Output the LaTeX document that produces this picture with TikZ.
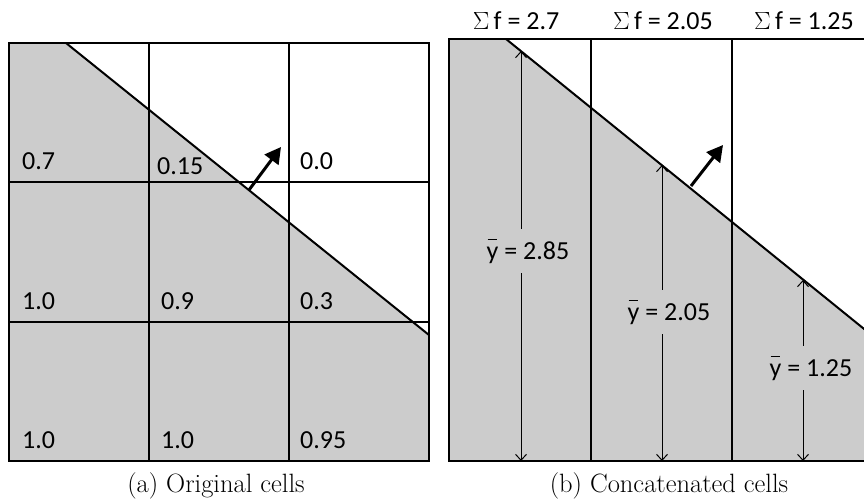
\documentclass[tikz,border=0pt]{standalone}
\usepackage{fontspec}
\newfontfamily\carlito{Carlito}
\usetikzlibrary{arrows.meta}
\newcommand{\ybar}{\rlap{\kern0.03em\raisebox{0.74em}{\rule{0.36em}{0.06em}}}y}
\tikzset{
  gridline/.style={line width=2pt, line join=miter},
  iface/.style={line width=2pt},
  shadefill/.style={fill=gray!40, draw=none},
  normarrow/.style={line width=3pt, -{Triangle[length=16pt,width=17pt]}},
  dimarrow/.style={line width=1pt, -{Straight Barb[length=6pt,width=11pt]}},
  cellval/.style={font=\carlito\fontsize{26}{30}\selectfont, anchor=base west, inner sep=0pt},
  sumlbl/.style={font=\carlito\fontsize{26}{30}\selectfont, anchor=base, inner sep=0pt},
  ylbl/.style={font=\carlito\fontsize{26}{30}\selectfont, anchor=center, inner xsep=2pt, inner ysep=0pt, minimum height=44pt},
  capt/.style={font=\fontsize{26.5}{30}\selectfont, anchor=center, inner sep=0pt}
}
\begin{document}
\begin{tikzpicture}[x=1pt,y=-1pt]
\useasboundingbox (0,0) rectangle (864,498);
\clip (0,0) rectangle (864,498);
% ---------- left panel ----------
\coordinate (La) at (66,43);
\coordinate (Lb) at (429,335);
\fill[shadefill] (9,43) -- (La) -- (Lb) -- (429,461) -- (9,461) -- cycle;
\draw[gridline] (9,43) rectangle (429,461);
\draw[gridline] (149,43) -- (149,461) (289,43) -- (289,461);
\draw[gridline] (9,182) -- (429,182) (9,322) -- (429,322);
\draw[iface] (La) -- (Lb);
\coordinate (Ln0) at (249,190);
\coordinate (Ln1) at (281,147);
\draw[normarrow] (Ln0) -- (Ln1);
\node[cellval] (c11) at (22,169) {0.7};
\node[cellval] (c12) at (157,174) {0.15};
\node[cellval] (c13) at (300,169) {0.0};
\node[cellval] (c21) at (22,309) {1.0};
\node[cellval] (c22) at (161,309) {0.9};
\node[cellval] (c23) at (300,309) {0.3};
\node[cellval] (c31) at (22,448) {1.0};
\node[cellval] (c32) at (161,448) {1.0};
\node[cellval] (c33) at (300,448) {0.95};
\node[capt] (capa) at (216,486) {(a) Original cells};
% ---------- right panel ----------
\coordinate (Ra) at (506,39);
\coordinate (Rb) at (874,337);
\fill[shadefill] (449,39) -- (Ra) -- (Rb) -- (874,461) -- (449,461) -- cycle;
\draw[gridline] (449,39) rectangle (874,461);
\draw[gridline] (591,39) -- (591,461) (732,39) -- (732,461);
\draw[iface] (Ra) -- (Rb);
\coordinate (Rn0) at (691,186);
\coordinate (Rn1) at (723,145);
\draw[normarrow] (Rn0) -- (Rn1);
\node[sumlbl] (s1) at (516,29) {$\Sigma$\,f = 2.7};
\node[sumlbl] (s2) at (663,29) {$\Sigma$\,f = 2.05};
\node[sumlbl] (s3) at (804,29) {$\Sigma$\,f = 1.25};
% dimension arrows
\coordinate (t1) at (521,51);  \coordinate (b1) at (521,461);
\coordinate (t2) at (662,165); \coordinate (b2) at (662,461);
\coordinate (t3) at (803,280); \coordinate (b3) at (803,461);
\node[ylbl] (y1) at (528,251) {\ybar\ = 2.85};
\node[ylbl] (y2) at (669,312) {\ybar\ = 2.05};
\node[ylbl] (y3) at (811,368) {\ybar\ = 1.25};
\draw[dimarrow] (t1 |- y1.north) -- (t1);
\draw[dimarrow] (t1 |- y1.south) -- (b1);
\draw[dimarrow] (t2 |- y2.north) -- (t2);
\draw[dimarrow] (t2 |- y2.south) -- (b2);
\draw[dimarrow] (t3 |- y3.north) -- (t3);
\draw[dimarrow] (t3 |- y3.south) -- (b3);
\node[capt] (capb) at (669,486) {(b) Concatenated cells};
\end{tikzpicture}
\end{document}
